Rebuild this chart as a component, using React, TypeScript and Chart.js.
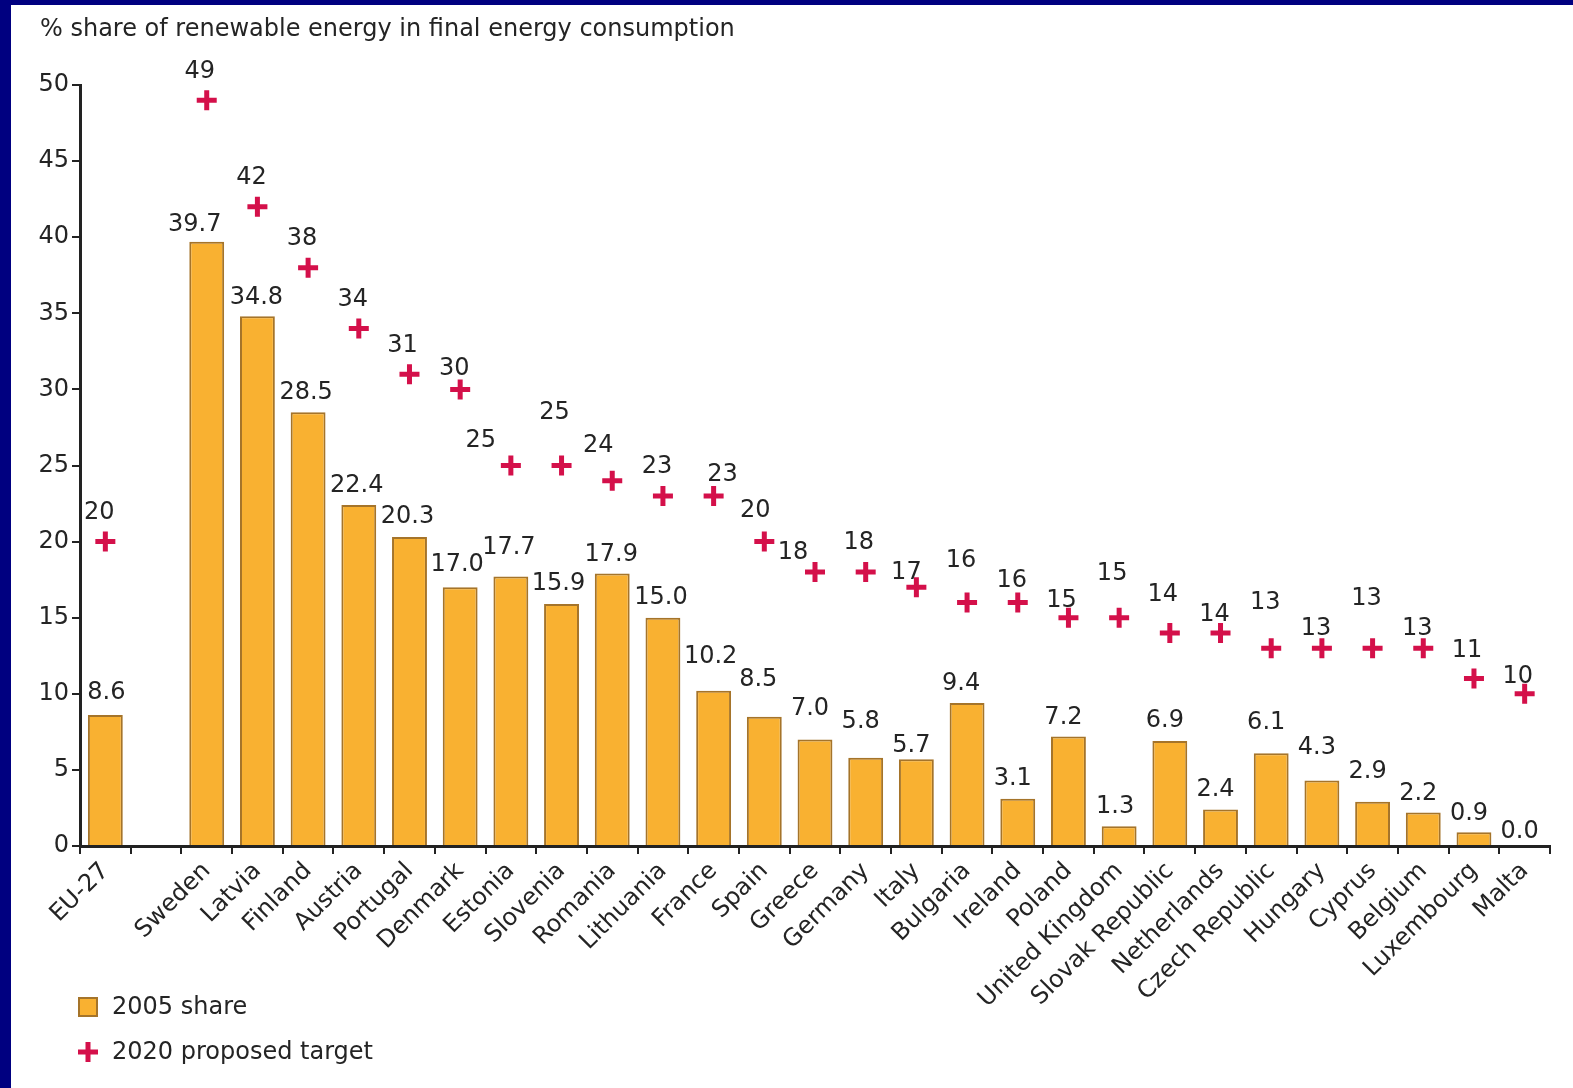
import React, { useEffect, useRef } from "react";
import { Chart, registerables } from "chart.js";

Chart.register(...registerables);

const categories = [
  "EU-27", "", "Sweden", "Latvia", "Finland", "Austria", "Portugal", "Denmark",
  "Estonia", "Slovenia", "Romania", "Lithuania", "France", "Spain", "Greece",
  "Germany", "Italy", "Bulgaria", "Ireland", "Poland", "United Kingdom",
  "Slovak Republic", "Netherlands", "Czech Republic", "Hungary", "Cyprus",
  "Belgium", "Luxembourg", "Malta",
];

const share2005 = [
  8.6, null, 39.7, 34.8, 28.5, 22.4, 20.3, 17.0, 17.7, 15.9, 17.9, 15.0, 10.2,
  8.5, 7.0, 5.8, 5.7, 9.4, 3.1, 7.2, 1.3, 6.9, 2.4, 6.1, 4.3, 2.9, 2.2, 0.9, 0.0,
];

const target2020 = [
  20, null, 49, 42, 38, 34, 31, 30, 25, 25, 24, 23, 23, 20, 18, 18, 17, 16, 16,
  15, 15, 14, 14, 13, 13, 13, 13, 11, 10,
];

const yTicks = [0, 5, 10, 15, 20, 25, 30, 35, 40, 45, 50];

const seriesNames = ["2005 share", "2020 proposed target"];
const titleText = "% share of renewable energy in final energy consumption";

// label placement nudges (pixels) for value labels
const barLabelGap = [22, 0, 17, 19, 19, 19, 20, 22, 29, 20, 19, 20, 34, 37, 31, 36, 13, 19, 20, 19, 19, 20, 20, 30, 33, 30, 19, 19, 14];
const barLabelDx = [1, 0, -12, -1, -2, -2, -2, -3, -2, -3, -1, -2, -3, -6, -5, -5, -5, -6, -5, -5, -4, -5, -5, -5, -5, -5, -5, -5, -5];
const targetLabelGap = [29, 0, 28, 29, 29, 29, 28, 21, 25, 53, 35, 29, 21, 31, 19, 29, 14, 42, 22, 17, 44, 38, 18, 45, 19, 49, 19, 28, 17];
const targetLabelDx = [-6, 0, -7, -6, -6, -6, -7, -6, -30, -7, -14, -6, 9, -9, -22, -7, -10, -6, -6, -7, -7, -7, -6, -6, -6, -6, -6, -7, -7];

const FONT = "'DejaVu Sans', Verdana, sans-serif";
const FSIZE = 24;
const TEXT = "#242424";
const BAR_FILL = "#F9B131";
const BAR_EDGE = "#A5742A";
const PLUS = "#D4104A";
const AXIS = "#222222";

const W = 1562;
const H = 1083;

function drawPlus(ctx: CanvasRenderingContext2D, x: number, y: number) {
  ctx.save();
  ctx.strokeStyle = PLUS;
  ctx.lineWidth = 5;
  ctx.beginPath();
  ctx.moveTo(x - 10, y);
  ctx.lineTo(x + 10, y);
  ctx.moveTo(x, y - 10);
  ctx.lineTo(x, y + 10);
  ctx.stroke();
  ctx.restore();
}

const overlayPlugin = {
  id: "overlay",
  afterDatasetsDraw(chart: any) {
    const ctx: CanvasRenderingContext2D = chart.ctx;
    ctx.save();
    ctx.font = `${FSIZE}px ${FONT}`;
    ctx.fillStyle = TEXT;
    ctx.textAlign = "center";
    ctx.textBaseline = "middle";
    const barMeta = chart.getDatasetMeta(0);
    barMeta.data.forEach((el: any, i: number) => {
      const v = share2005[i];
      if (v === null || v === undefined) return;
      ctx.fillText(v.toFixed(1), el.x + barLabelDx[i], el.y - barLabelGap[i]);
    });
    const tMeta = chart.getDatasetMeta(1);
    tMeta.data.forEach((el: any, i: number) => {
      const v = target2020[i];
      if (v === null || v === undefined) return;
      ctx.fillText(String(v), el.x + targetLabelDx[i], el.y - targetLabelGap[i]);
    });
    ctx.restore();
  },
  afterDraw(chart: any) {
    const ctx: CanvasRenderingContext2D = chart.ctx;
    ctx.save();
    ctx.font = `${FSIZE}px ${FONT}`;
    ctx.fillStyle = TEXT;
    ctx.textAlign = "left";
    ctx.textBaseline = "middle";
    ctx.fillText(titleText, 29, 25);
    // legend
    ctx.fillStyle = BAR_FILL;
    ctx.fillRect(67, 992, 20, 20);
    ctx.strokeStyle = BAR_EDGE;
    ctx.lineWidth = 2;
    ctx.strokeRect(68, 993, 18, 18);
    ctx.fillStyle = TEXT;
    ctx.fillText(seriesNames[0], 101, 1003);
    drawPlus(ctx, 77, 1047);
    ctx.fillStyle = TEXT;
    ctx.fillText(seriesNames[1], 101, 1048);
    ctx.restore();
  },
};

export default function App() {
  const ref = useRef<HTMLCanvasElement | null>(null);

  useEffect(() => {
    if (!ref.current) return;
    const chart = new Chart(ref.current, {
      type: "bar",
      data: {
        labels: categories,
        datasets: [
          {
            type: "bar",
            label: seriesNames[0],
            data: share2005 as any,
            backgroundColor: BAR_FILL,
            borderColor: BAR_EDGE,
            borderWidth: 2,
            borderSkipped: "bottom",
            categoryPercentage: 0.8,
            barPercentage: 0.86,
            order: 2,
          },
          {
            type: "line",
            label: seriesNames[1],
            data: target2020 as any,
            showLine: false,
            pointStyle: "cross",
            pointRadius: 10,
            pointHoverRadius: 10,
            pointBorderWidth: 5,
            pointBorderColor: PLUS,
            pointBackgroundColor: PLUS,
            borderColor: PLUS,
            order: 1,
          } as any,
        ],
      },
      options: {
        responsive: false,
        animation: false,
        events: [],
        layout: { padding: { top: 80, right: 23, bottom: 0, left: 0 } },
        plugins: {
          legend: { display: false },
          title: { display: false },
          tooltip: { enabled: false },
        },
        scales: {
          x: {
            type: "category",
            offset: true,
            grid: {
              display: true,
              offset: true,
              drawOnChartArea: false,
              drawTicks: true,
              tickLength: 8,
              color: AXIS,
              lineWidth: 2,
            },
            border: { display: true, color: AXIS, width: 3 },
            ticks: {
              autoSkip: false,
              minRotation: 45,
              maxRotation: 45,
              padding: 3,
              color: TEXT,
              font: { family: FONT, size: FSIZE },
            },
            afterFit(scale: any) {
              scale.height = 242;
            },
          },
          y: {
            min: 0,
            max: 50,
            afterBuildTicks(scale: any) {
              scale.ticks = yTicks.map((v) => ({ value: v }));
            },
            grid: {
              display: true,
              drawOnChartArea: false,
              drawTicks: true,
              tickLength: 8,
              color: AXIS,
              lineWidth: 2,
            },
            border: { display: true, color: AXIS, width: 3 },
            ticks: {
              padding: 3,
              color: TEXT,
              font: { family: FONT, size: FSIZE },
            },
            afterFit(scale: any) {
              scale.width = 69;
            },
          },
        },
      },
      plugins: [overlayPlugin],
    });
    return () => chart.destroy();
  }, []);

  return (
    <div
      style={{
        position: "fixed",
        left: 0,
        top: 0,
        width: 1573,
        height: 1088,
        background: "#000080",
        overflow: "hidden",
      }}
    >
      <div
        style={{
          position: "absolute",
          left: 11,
          top: 5,
          width: W,
          height: H,
          background: "#ffffff",
        }}
      >
        <canvas ref={ref} width={W} height={H} style={{ display: "block" }} />
      </div>
    </div>
  );
}
